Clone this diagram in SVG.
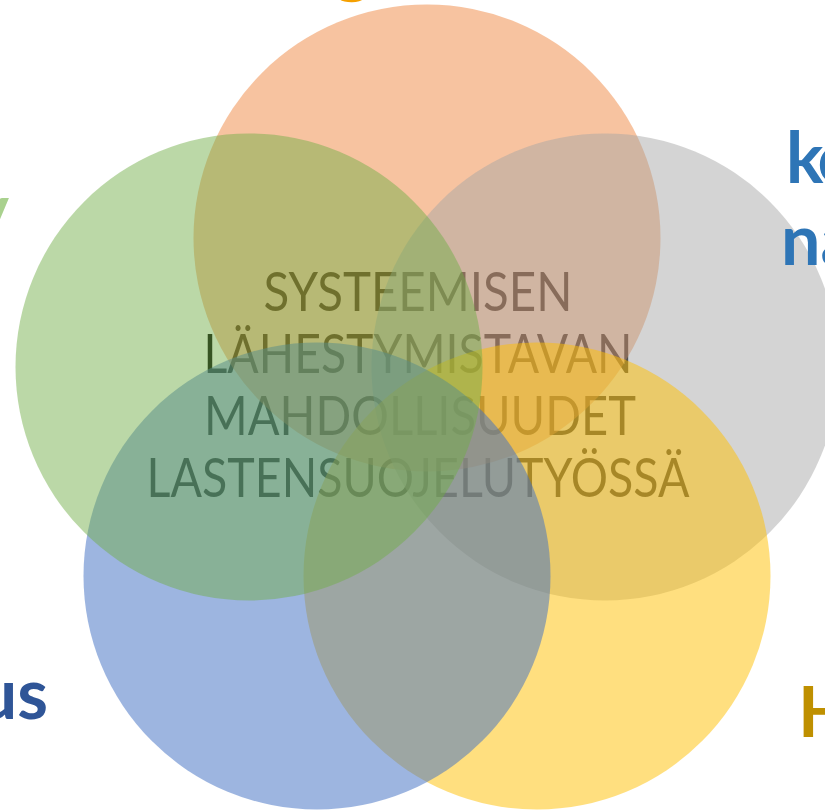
<svg xmlns="http://www.w3.org/2000/svg" width="825" height="810" viewBox="0 0 825 810">
<style>
.title{font-family:Lato,"Liberation Sans",sans-serif;font-size:54px;fill:#000;text-anchor:middle}
.lab{font-family:Lato,"Liberation Sans",sans-serif;font-size:70px;font-weight:bold}
.c{stroke:none}
</style>
<rect width="825" height="810" fill="#fff"/>
<g id="title">
<text class="title" x="418" y="311" textLength="309" lengthAdjust="spacingAndGlyphs">SYSTEEMISEN</text>
<text class="title" x="418" y="373" textLength="429" lengthAdjust="spacingAndGlyphs">LÄHESTYMISTAVAN</text>
<text class="title" x="420" y="435" textLength="432" lengthAdjust="spacingAndGlyphs">MAHDOLLISUUDET</text>
<text class="title" x="418" y="497" textLength="543" lengthAdjust="spacingAndGlyphs">LASTENSUOJELUTYÖSSÄ</text>
</g>
<g id="node-orange"><circle class="c" cx="427" cy="238" r="233.5" fill="#ED7D31" fill-opacity="0.46"/></g>
<g id="node-gray"><circle class="c" cx="605" cy="367" r="233.5" fill="#A5A5A5" fill-opacity="0.48"/></g>
<g id="node-yellow"><circle class="c" cx="537" cy="576" r="233.5" fill="#FFC000" fill-opacity="0.5"/></g>
<g id="node-blue"><circle class="c" cx="317" cy="576" r="233.5" fill="#4472C4" fill-opacity="0.52"/></g>
<g id="node-green"><circle class="c" cx="249" cy="367" r="233.5" fill="#70AD47" fill-opacity="0.48"/></g>
<g id="labels">
<text class="lab" x="334" y="-11" fill="#F5A000">g</text>
<text class="lab" x="786" y="183" fill="#2E75B6" letter-spacing="-4">ko</text>
<text class="lab" x="781" y="265" fill="#2E75B6">na</text>
<text class="lab" x="9" y="234" fill="#A9D18E" text-anchor="end">y</text>
<text class="lab" x="48" y="719" fill="#2F5597" text-anchor="end">us</text>
<text class="lab" x="798" y="737" fill="#BF9000">H</text>
</g>
</svg>
